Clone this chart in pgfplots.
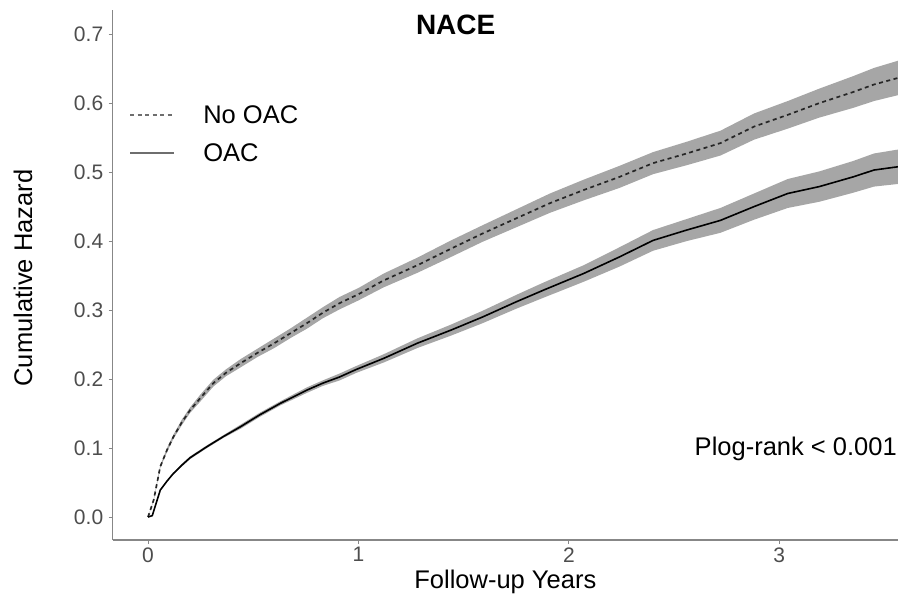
\documentclass[border=0pt]{standalone}
\usepackage{fontspec}
\setmainfont{Liberation Sans}
\usepackage{pgfplots}
\pgfplotsset{compat=1.18}
\usepackage{pgfplotstable}
\usepgfplotslibrary{fillbetween}
\definecolor{bandgray}{RGB}{166,166,166}
\definecolor{axgray}{RGB}{135,135,135}
\definecolor{ticktext}{RGB}{77,77,77}
\definecolor{keygray}{RGB}{110,110,110}

\pgfplotstableread{
x y lo hi
0 0 0 0
0.027 0.025 0.024 0.026
0.058 0.073 0.071 0.075
0.09 0.097 0.094 0.100
0.12 0.116 0.113 0.119
0.16 0.137 0.133 0.141
0.20 0.155 0.151 0.159
0.25 0.173 0.168 0.178
0.31 0.194 0.189 0.199
0.37 0.209 0.204 0.214
0.44 0.223 0.217 0.229
0.52 0.238 0.232 0.244
0.60 0.252 0.245 0.259
0.68 0.267 0.260 0.274
0.755 0.281 0.273 0.289
0.83 0.296 0.288 0.304
0.91 0.310 0.301 0.319
1.00 0.323 0.314 0.332
1.12 0.343 0.333 0.353
1.28 0.365 0.354 0.376
1.44 0.389 0.377 0.401
1.59 0.411 0.399 0.423
1.75 0.433 0.420 0.446
1.91 0.455 0.441 0.469
2.07 0.474 0.459 0.489
2.24 0.493 0.477 0.509
2.40 0.513 0.497 0.529
2.56 0.527 0.510 0.544
2.72 0.542 0.524 0.560
2.88 0.566 0.547 0.585
3.04 0.583 0.563 0.603
3.19 0.600 0.579 0.621
3.35 0.616 0.593 0.639
3.45 0.627 0.603 0.651
3.57 0.637 0.612 0.662
}\noOAC

\pgfplotstableread{
x y lo hi
0 0 0 0
0.02 0.002 0.002 0.002
0.058 0.039 0.038 0.040
0.09 0.052 0.051 0.053
0.12 0.063 0.062 0.064
0.16 0.075 0.073 0.077
0.20 0.086 0.084 0.088
0.28 0.102 0.100 0.104
0.36 0.117 0.115 0.119
0.44 0.131 0.128 0.134
0.53 0.148 0.145 0.151
0.63 0.165 0.162 0.168
0.755 0.184 0.180 0.188
0.83 0.194 0.190 0.198
0.91 0.203 0.198 0.208
0.99 0.214 0.209 0.219
1.12 0.230 0.224 0.236
1.28 0.252 0.245 0.259
1.44 0.271 0.263 0.279
1.59 0.290 0.281 0.299
1.75 0.312 0.302 0.322
1.88 0.329 0.318 0.340
2.07 0.353 0.341 0.365
2.24 0.377 0.363 0.391
2.40 0.401 0.386 0.416
2.56 0.416 0.400 0.432
2.72 0.430 0.412 0.448
2.88 0.450 0.431 0.469
3.04 0.469 0.448 0.490
3.19 0.479 0.457 0.501
3.35 0.493 0.470 0.516
3.45 0.503 0.479 0.527
3.57 0.508 0.483 0.533
}\OAC

\begin{document}
\begin{tikzpicture}
\begin{axis}[
  scale only axis,
  width=785.3bp, height=530bp,
  xmin=-0.168, xmax=3.564,
  ymin=-0.0333, ymax=0.735,
  axis x line*=bottom, axis y line*=left,
  axis line style={axgray, line width=1.3bp},
  xtick={0,1,2,3}, ytick={0,0.1,0.2,0.3,0.4,0.5,0.6,0.7},
  tick align=outside, major tick length=4bp,
  tick style={axgray, line width=1bp},
  /pgf/number format/assume math mode=true,
  yticklabel style={/pgf/number format/fixed, /pgf/number format/fixed zerofill, /pgf/number format/precision=1, xshift=-2bp},
  ticklabel style={font=\fontsize{21bp}{25bp}\selectfont, text=ticktext},
  xlabel={Follow-up Years}, ylabel={Cumulative Hazard},
  label style={font=\fontsize{25.5bp}{30bp}\selectfont},
  xlabel style={at={(rel axis cs:0.5,0)}, anchor=base, yshift=-48bp},
  ylabel style={at={(rel axis cs:0,0.5)}, anchor=center, yshift=89.7bp, xshift=-3bp},
  legend cell align=left,
  legend image code/.code={\draw[#1] (0bp,0bp) -- (44bp,0bp);},
  legend style={draw=none, fill=none, at={(axis cs:-0.105,0.603)}, anchor=north west,
    font=\fontsize{25.5bp}{30bp}\selectfont, row sep=15bp,
    /tikz/every odd column/.append style={column sep=26bp}},
]
\coordinate (A) at (rel axis cs:0,0);
\addplot[name path=nh, draw=none, forget plot] table[x=x, y=hi] {\noOAC};
\addplot[name path=nl, draw=none, forget plot] table[x=x, y=lo] {\noOAC};
\addplot[bandgray, forget plot] fill between[of=nh and nl];
\addplot[name path=oh, draw=none, forget plot] table[x=x, y=hi] {\OAC};
\addplot[name path=ol, draw=none, forget plot] table[x=x, y=lo] {\OAC};
\addplot[bandgray, forget plot] fill between[of=oh and ol];
\addplot[black!85, line width=1.7bp, dash pattern=on 4bp off 3.5bp, forget plot] table[x=x, y=y] {\noOAC};
\addplot[black, line width=1.6bp, forget plot] table[x=x, y=y] {\OAC};
\addlegendimage{keygray, line width=1.8bp, dash pattern=on 4bp off 3.5bp}
\addlegendentry{No OAC}
\addlegendimage{keygray, line width=2.2bp}
\addlegendentry{OAC}
\node[anchor=base, font=\bfseries\fontsize{28bp}{32bp}\selectfont] at (axis cs:1.462,0.700) {NACE};
\node[anchor=base east, font=\fontsize{25.5bp}{30bp}\selectfont, inner sep=0pt] at (axis cs:3.559,0.0899) {Plog-rank < 0.001};
\end{axis}
\pgfresetboundingbox
\path (A) ++(-112.7bp,-55bp) rectangle ++(898bp,595bp);
\end{tikzpicture}
\end{document}
